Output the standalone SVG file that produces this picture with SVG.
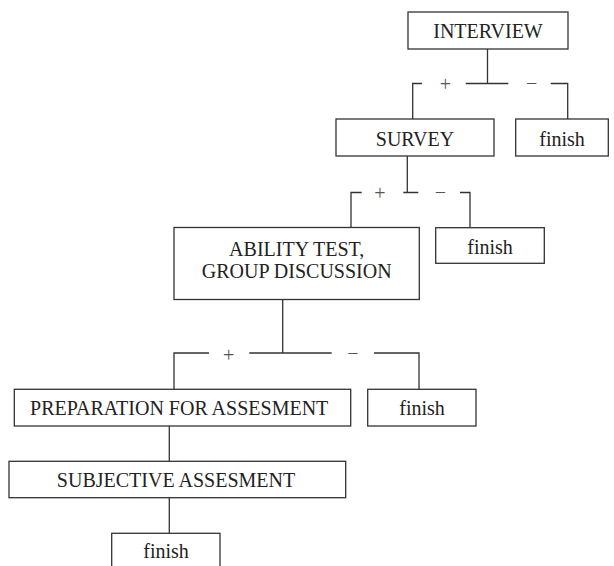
<svg xmlns="http://www.w3.org/2000/svg" width="614" height="566" viewBox="0 0 614 566">
<style>
.box{fill:#fff;stroke:#333;stroke-width:1.3}
.lbl{font-family:"Liberation Serif","Times New Roman",serif;font-size:20px;fill:#222;text-anchor:middle}
.sign{font-family:"Liberation Serif","Times New Roman",serif;font-size:20px;fill:#555;text-anchor:middle}
.con{fill:none;stroke:#333;stroke-width:1.3}
</style>
<rect width="614" height="566" fill="#fff"/>
<g id="connectors">
<path class="con" d="M487.5 49V83.5 M412.7 119V83.5H422 M465.7 83.5H508.3 M550.7 83.5H567.7V119"/>
<path class="con" d="M407.3 156V192.5 M351 227.5V192.5H361.7 M403.3 192.5H418.3 M460 192.5H470V227.5"/>
<path class="con" d="M282.7 299.5V353 M174 389.3V353H209 M249.3 353H331.7 M374 353H419V389.3"/>
<path class="con" d="M169.3 426V461.3 M169.3 497.7V533.3"/>
<text class="sign" x="445.5" y="91">+</text>
<text class="sign" x="531.7" y="90">−</text>
<text class="sign" x="380" y="200">+</text>
<text class="sign" x="440.5" y="199">−</text>
<text class="sign" x="228.7" y="361.5">+</text>
<text class="sign" x="353" y="360">−</text>
</g>
<g id="interview"><rect class="box" x="408" y="12" width="160" height="37"/><text class="lbl" x="488" y="37.5">INTERVIEW</text></g>
<g id="survey"><rect class="box" x="336" y="119" width="158" height="37"/><text class="lbl" x="415" y="145.5">SURVEY</text></g>
<g id="finish1"><rect class="box" x="515.7" y="119" width="92.6" height="37"/><text class="lbl" x="562" y="145.5">finish</text></g>
<g id="ability"><rect class="box" x="174" y="227.5" width="245.3" height="72"/><text class="lbl" x="296.7" y="256">ABILITY TEST,</text><text class="lbl" x="296.7" y="278">GROUP DISCUSSION</text></g>
<g id="finish2"><rect class="box" x="435.7" y="227.7" width="108.6" height="35.6"/><text class="lbl" x="490" y="254">finish</text></g>
<g id="preparation"><rect class="box" x="14.3" y="389.3" width="336.4" height="36.7"/><text class="lbl" x="179.2" y="415">PREPARATION FOR ASSESMENT</text></g>
<g id="finish3"><rect class="box" x="367.7" y="389.3" width="108.3" height="36.7"/><text class="lbl" x="422" y="415">finish</text></g>
<g id="subjective"><rect class="box" x="9" y="461.3" width="336.7" height="36.4"/><text class="lbl" x="176" y="487">SUBJECTIVE ASSESMENT</text></g>
<g id="finish4"><rect class="box" x="111.7" y="533.3" width="108.3" height="40"/><text class="lbl" x="166" y="558">finish</text></g>
</svg>
